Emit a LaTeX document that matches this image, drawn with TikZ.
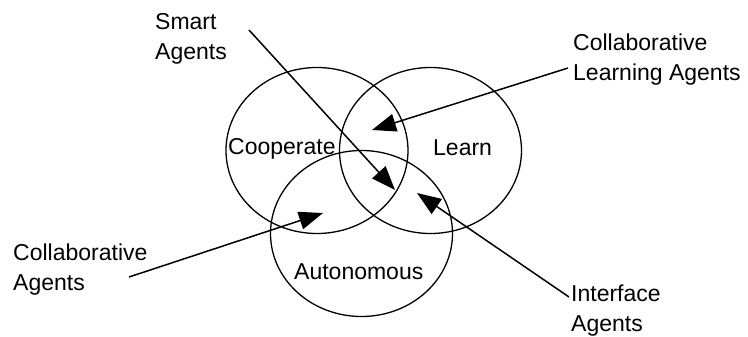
\documentclass[tikz,border=0pt]{standalone}
\usepackage{fontspec}
\setmainfont{Liberation Sans}
\usetikzlibrary{arrows.meta,shapes.geometric}
\begin{document}
\begin{tikzpicture}[x=1pt,y=-1pt,
  ring/.style={draw, ellipse, line width=1.3pt, minimum width=182pt, minimum height=166pt, inner sep=0pt},
  lab/.style={font=\fontsize{23}{30}\selectfont, inner sep=0pt, align=left, anchor=base west},
  pointer/.style={line width=1.5pt, -{Triangle[length=24pt,width=18pt]}}]
\useasboundingbox (0,0) rectangle (748,337);
% circles
\node[ring] (coop) at (317,150.5) {};
\node[ring] (learn) at (430.5,150.5) {};
\node[ring] (auto) at (361.5,233.5) {};
% circle labels
\node[lab] (tcoop) at (228,154) {Cooperate};
\node[lab] (tlearn) at (433,155) {Learn};
\node[lab] (tauto) at (294,279) {Autonomous};
% outer labels (anchor = baseline of last line)
\node[lab] (smart) at (155,60) {Smart\\Agents};
\node[lab] (cla) at (573,81) {Collaborative\\Learning Agents};
\node[lab] (ca) at (13,290) {Collaborative\\Agents};
\node[lab] (ia) at (571,331) {Interface\\Agents};
% connector ends
\coordinate (s0) at (249,30);
\coordinate (s1) at (395,190);
\coordinate (l0) at (568,68);
\coordinate (l1) at (372,130);
\coordinate (c0) at (129,277);
\coordinate (c1) at (323,213);
\coordinate (i0) at (569,297);
\coordinate (i1) at (417,193);
\draw[pointer] (s0) -- (s1);
\draw[pointer] (l0) -- (l1);
\draw[pointer] (c0) -- (c1);
\draw[pointer] (i0) -- (i1);
\end{tikzpicture}
\end{document}
